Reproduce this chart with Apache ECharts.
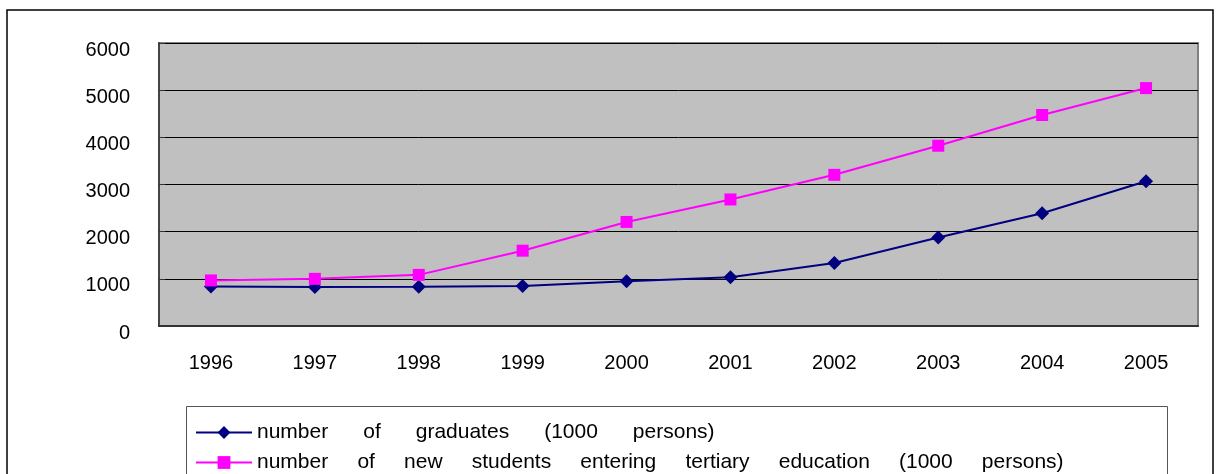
<!DOCTYPE html>
<html>
<head>
<meta charset="utf-8">
<script src="https://cdn.jsdelivr.net/npm/echarts@6/dist/echarts.min.js"></script>
<style>
  html, body { margin: 0; padding: 0; background: #fff; }
  #main { width: 1217px; height: 474px; }
</style>
</head>
<body>
<div id="main"></div>
<script>
// years on the x axis
var years = ['1996', '1997', '1998', '1999', '2000', '2001', '2002', '2003', '2004', '2005'];
// number of graduates (1000 persons)
var graduates = [839, 829, 830, 848, 950, 1036, 1337, 1877, 2391, 3068];
// number of new students entering tertiary education (1000 persons)
var newStudents = [966, 1000, 1084, 1597, 2206, 2683, 3205, 3822, 4473, 5044];
// legend names, words spread wide like the original
var seriesNames = [
    'number      of      graduates      (1000      persons)',
    'number     of     new     students     entering     tertiary     education     (1000     persons)'
];

var font = '"Liberation Sans", Arial, sans-serif';
var chart = echarts.init(document.getElementById('main'));

var option = {
    backgroundColor: '#ffffff',
    animation: false,
    graphic: [
        {
            // outer frame of the chart
            type: 'rect',
            shape: { x: 7, y: 10, width: 1206, height: 500 },
            style: { fill: 'none', stroke: '#000', lineWidth: 1.5 },
            silent: true
        },
        {
            // legend box
            type: 'rect',
            shape: { x: 186.5, y: 406.5, width: 981, height: 100 },
            style: { fill: '#fff', stroke: '#555', lineWidth: 1 },
            silent: true,
            z: 0
        }
    ],
    grid: {
        left: 159, right: 19, top: 43, bottom: 148,
        show: true,
        backgroundColor: '#c0c0c0',
        borderColor: '#808080',
        borderWidth: 2
    },
    legend: {
        orient: 'vertical',
        left: 195, top: 422,
        height: 120,
        padding: 0,
        itemGap: 9,
        itemWidth: 56, itemHeight: 16,
        textStyle: { fontFamily: font, fontSize: 21, color: '#000' },
        data: seriesNames,
        z: 10
    },
    xAxis: {
        type: 'category',
        data: years,
        boundaryGap: true,
        axisLine: { lineStyle: { color: '#333', width: 2 } },
        axisTick: { inside: true, length: 7, lineStyle: { color: '#333', width: 1.5 } },
        axisLabel: { fontFamily: font, fontSize: 20, color: '#000', margin: 27 },
        splitLine: { show: false }
    },
    yAxis: {
        type: 'value',
        min: 0, max: 6000, interval: 1000,
        axisLine: { show: true, lineStyle: { color: '#444', width: 2 } },
        axisTick: { show: true, inside: true, length: 6, lineStyle: { color: '#333' } },
        axisLabel: {
            fontFamily: font, fontSize: 20, color: '#000', margin: 29,
            verticalAlign: 'top', lineHeight: 14,
            formatter: function (v) { return String(v); }
        },
        splitLine: { lineStyle: { color: '#000', width: 1 } }
    },
    series: [
        {
            name: seriesNames[0],
            type: 'line',
            data: graduates,
            symbol: 'diamond',
            symbolSize: 14,
            itemStyle: { color: '#000080' },
            lineStyle: { color: '#000080', width: 2 }
        },
        {
            name: seriesNames[1],
            type: 'line',
            data: newStudents,
            symbol: 'rect',
            symbolSize: 12,
            itemStyle: { color: '#ff00ff' },
            lineStyle: { color: '#ff00ff', width: 2 }
        }
    ]
};

chart.setOption(option);
</script>
</body>
</html>
